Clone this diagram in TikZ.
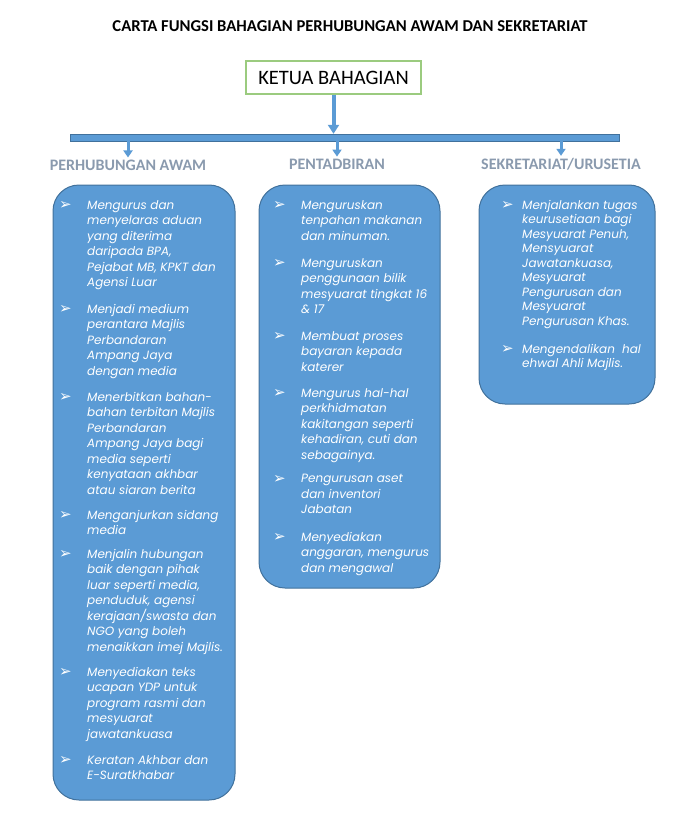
\documentclass[tikz,border=0pt]{standalone}
\usepackage{fontspec}
\setmainfont{Carlito}
\newfontfamily\gothic{Poppins}
\newfontfamily\dingfont{DejaVu Sans}
\usetikzlibrary{arrows.meta,positioning}
\definecolor{officeblue}{HTML}{5B9BD5}
\definecolor{blueedge}{HTML}{41719C}
\definecolor{headgray}{HTML}{8A9AAE}
\definecolor{chiefgreen}{HTML}{9BCB7F}
\tikzset{
  ttl/.style     ={font=\bfseries\fontsize{16.6}{19}\selectfont, inner sep=0pt},
  chief/.style   ={draw=chiefgreen, line width=1.3pt, fill=white,
                   minimum width=175pt, minimum height=33pt, inner sep=0pt,
                   font=\fontsize{20.5}{23}\selectfont},
  bar/.style     ={draw=blueedge, line width=0.4pt, fill=officeblue,
                   minimum width=549pt, minimum height=7pt, inner sep=0pt},
  bigarr/.style  ={-{Triangle[length=9pt,width=11pt]}, line width=4pt,
                   officeblue},
  smallarr/.style={-{Triangle[length=7pt,width=9pt]}, line width=3pt,
                   officeblue},
  head/.style    ={font=\bfseries\fontsize{16}{19}\selectfont, text=headgray,
                   inner sep=2pt},
  panel/.style   ={draw=blueedge, line width=1pt, fill=officeblue,
                   rounded corners=26pt, inner sep=0pt},
  itm/.style     ={anchor=north west, inner sep=0pt, align=left, text=white,
                   font=\gothic\itshape\fontsize{12}{15.5}\selectfont},
  itmC/.style    ={itm, font=\gothic\itshape\fontsize{12}{14.5}\selectfont},
  mark/.style    ={label={[anchor=east, xshift=-#1, yshift=-5.5pt,
                   inner sep=0pt, text=white,
                   font=\dingfont\fontsize{15}{16}\selectfont]north west:➢}},
}

\begin{document}
\begin{tikzpicture}[x=1pt, y=1pt]
  \useasboundingbox (0,0) rectangle (700,-840);
  \node[ttl] (title) at (350,-26)
    {CARTA FUNGSI BAHAGIAN PERHUBUNGAN AWAM DAN SEKRETARIAT};
  \node[chief] (ketua) at (333.5,-77.5) {KETUA BAHAGIAN};
  \node[bar] (bar) at (344.5,-137.5) {};
  \draw[bigarr] (ketua.south) -- (ketua.south |- bar.north);

  \node[head] (pa) at (128,-165) {PERHUBUNGAN AWAM};
  \node[head] (pt) at (337,-164) {PENTADBIRAN};
  \node[head] (sk) at (561,-164) {SEKRETARIAT/URUSETIA};
  \draw[smallarr] (bar.south -| pa) -- (pa.north);
  \draw[smallarr] (bar.south -| pt) -- (pt.north);
  \draw[smallarr] (bar.south -| sk) -- (sk.north);

  % panels
  \node[panel, minimum width=182pt, minimum height=615pt] (boxpa)
    at (144,-492.5) {};
  \node[panel, minimum width=181pt, minimum height=403pt] (boxpt)
    at (349.5,-386.5) {};
  \node[panel, minimum width=176pt, minimum height=219pt] (boxsk)
    at (567,-294.5) {};

  % perhubungan awam
  \node[itm, mark=15pt] (pa1) at (87,-200)
    {Mengurus dan\\menyelaras aduan\\yang diterima\\daripada BPA,\\
     Pejabat MB, KPKT dan\\Agensi Luar};
  \node[itm, mark=15pt] (pa2) at (87,-304)
    {Menjadi medium\\perantara Majlis\\Perbandaran\\Ampang Jaya\\dengan media};
  \node[itm, mark=15pt] (pa3) at (87,-392)
    {Menerbitkan bahan-\\bahan terbitan Majlis\\Perbandaran\\
     Ampang Jaya bagi\\media seperti\\kenyataan akhbar\\atau siaran berita};
  \node[itm, mark=15pt] (pa4) at (87,-510) {Menganjurkan sidang\\media};
  \node[itm, mark=15pt] (pa5) at (87,-549)
    {Menjalin hubungan\\baik dengan pihak\\luar seperti media,\\
     penduduk, agensi\\kerajaan/swasta dan\\NGO yang boleh\\
     menaikkan imej Majlis.};
  \node[itm, mark=15pt] (pa6) at (87,-667)
    {Menyediakan teks\\ucapan YDP untuk\\program rasmi dan\\mesyuarat\\
     jawatankuasa};
  \node[itm, mark=15pt] (pa7) at (87,-755) {Keratan Akhbar dan\\E-Suratkhabar};

  % pentadbiran
  \node[itm, mark=15pt] (pt1) at (301,-200)
    {Menguruskan\\tenpahan makanan\\dan minuman.};
  \node[itm, mark=15pt] (pt2) at (301,-258)
    {Menguruskan\\penggunaan bilik\\mesyuarat tingkat 16\\\& 17};
  \node[itm, mark=15pt] (pt3) at (301,-331)
    {Membuat proses\\bayaran kepada\\katerer};
  \node[itm, mark=15pt] (pt4) at (301,-388)
    {Mengurus hal-hal\\perkhidmatan\\kakitangan seperti\\
     kehadiran, cuti dan\\sebagainya.};
  \node[itm, mark=15pt] (pt5) at (301,-474)
    {Pengurusan aset\\dan inventori\\Jabatan};
  \node[itm, mark=15pt] (pt6) at (301,-532)
    {Menyediakan\\anggaran, mengurus\\dan mengawal};

  % sekretariat
  \node[itmC, mark=8pt] (sk1) at (522,-200)
    {Menjalankan tugas\\keurusetiaan bagi\\Mesyuarat Penuh,\\Mensyuarat\\
     Jawatankuasa,\\Mesyuarat\\Pengurusan dan\\Mesyuarat\\Pengurusan Khas.};
  \node[itmC, mark=8pt] (sk2) at (522,-344)
    {Mengendalikan\ \ hal\\ehwal Ahli Majlis.};
\end{tikzpicture}
\end{document}
